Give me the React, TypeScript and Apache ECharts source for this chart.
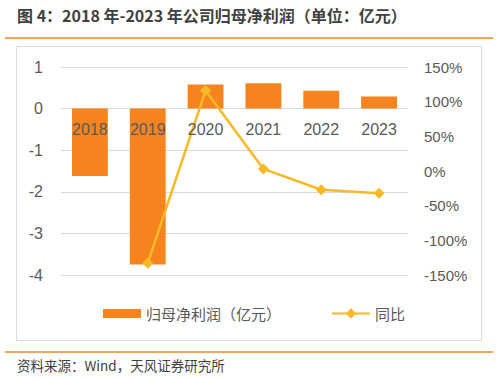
import React, { useEffect, useRef } from "react";
import * as echarts from "echarts";

const categories = ["2018", "2019", "2020", "2021", "2022", "2023"];
const profit = [-1.62, -3.75, 0.58, 0.61, 0.43, 0.29];
const yoy = [null, -133, 116, 3, -27, -32];
const leftTicks = { min: -4, max: 1, interval: 1 };
const rightTicks = { min: -150, max: 150, interval: 50 };

const title = "图 4：2018 年-2023 年公司归母净利润（单位：亿元）";
const source = "资料来源：Wind，天风证券研究所";
const barName = "归母净利润（亿元）";
const lineName = "同比";

const CJK = '"Noto Sans CJK SC", "Liberation Sans", sans-serif';
const NUM = '"Liberation Sans", Arial, sans-serif';

const GRID_TOP = 67;
const GRID_HEIGHT = 208;
// distance of the zero line below the top of the grid, from the left axis scale
const zeroOffset =
  (leftTicks.max / (leftTicks.max - leftTicks.min)) * GRID_HEIGHT;

export default function App() {
  const ref = useRef<HTMLDivElement>(null);
  useEffect(() => {
    if (!ref.current) return;
    const chart = echarts.init(ref.current, null, { renderer: "svg" });
    chart.setOption({
      animation: false,
      backgroundColor: "#ffffff",
      grid: { left: 61, top: GRID_TOP, width: 347, height: GRID_HEIGHT },
      legend: {
        top: 301,
        left: 98,
        itemGap: 50,
        itemWidth: 38,
        itemHeight: 13,
        textStyle: { fontFamily: CJK, fontSize: 15, color: "#595959" },
        data: [
          { name: barName, icon: "path://M0 0h38v9h-38z" },
          { name: lineName },
        ],
      },
      graphic: [
        {
          type: "text",
          left: 17,
          top: 7,
          style: {
            text: title,
            font: `bold 16px ${CJK}`,
            fill: "#404040",
          },
        },
        {
          type: "line",
          shape: { x1: 5, y1: 38, x2: 493, y2: 38 },
          style: { stroke: "#F5841F", lineWidth: 1.5 },
        },
        {
          type: "rect",
          shape: { x: 16.5, y: 46.5, width: 465, height: 294 },
          style: { fill: "none", stroke: "#D9D9D9", lineWidth: 1 },
          z: -1,
        },
        {
          type: "line",
          shape: { x1: 5, y1: 352, x2: 493, y2: 352 },
          style: { stroke: "#F5841F", lineWidth: 1.5 },
        },
        {
          type: "text",
          left: 17,
          top: 358,
          style: {
            text: source,
            font: `13.5px ${CJK}`,
            fill: "#404040",
          },
        },
      ],
      xAxis: {
        type: "category",
        data: categories,
        position: "top",
        offset: -zeroOffset,
        z: 10,
        axisLine: { show: false, onZero: false },
        axisTick: { show: false },
        axisLabel: {
          inside: true,
          margin: 13,
          fontFamily: NUM,
          fontSize: 16,
          color: "#595959",
        },
      },
      yAxis: [
        {
          type: "value",
          min: leftTicks.min,
          max: leftTicks.max,
          interval: leftTicks.interval,
          axisLine: { show: false },
          axisTick: { show: false },
          splitLine: { lineStyle: { color: "#D9D9D9", width: 1 } },
          axisLabel: {
            margin: 18,
            fontFamily: NUM,
            fontSize: 16,
            color: "#595959",
          },
        },
        {
          type: "value",
          min: rightTicks.min,
          max: rightTicks.max,
          interval: rightTicks.interval,
          axisLine: { show: false },
          axisTick: { show: false },
          splitLine: { show: false },
          axisLabel: {
            margin: 16,
            fontFamily: NUM,
            fontSize: 15,
            color: "#595959",
            formatter: (v: number) => `${v}%`,
          },
        },
      ],
      series: [
        {
          name: barName,
          type: "bar",
          data: profit,
          yAxisIndex: 0,
          barWidth: "62%",
          itemStyle: { color: "#F5841F" },
          z: 1,
        },
        {
          name: lineName,
          type: "line",
          data: yoy,
          yAxisIndex: 1,
          symbol: "diamond",
          symbolSize: 11,
          lineStyle: { color: "#F9B826", width: 2.5 },
          itemStyle: { color: "#F9B826" },
          z: 5,
        },
      ],
    });
    return () => chart.dispose();
  }, []);
  return (
    <div
      ref={ref}
      style={{ position: "fixed", left: 0, top: 0, width: 499, height: 380 }}
    />
  );
}
